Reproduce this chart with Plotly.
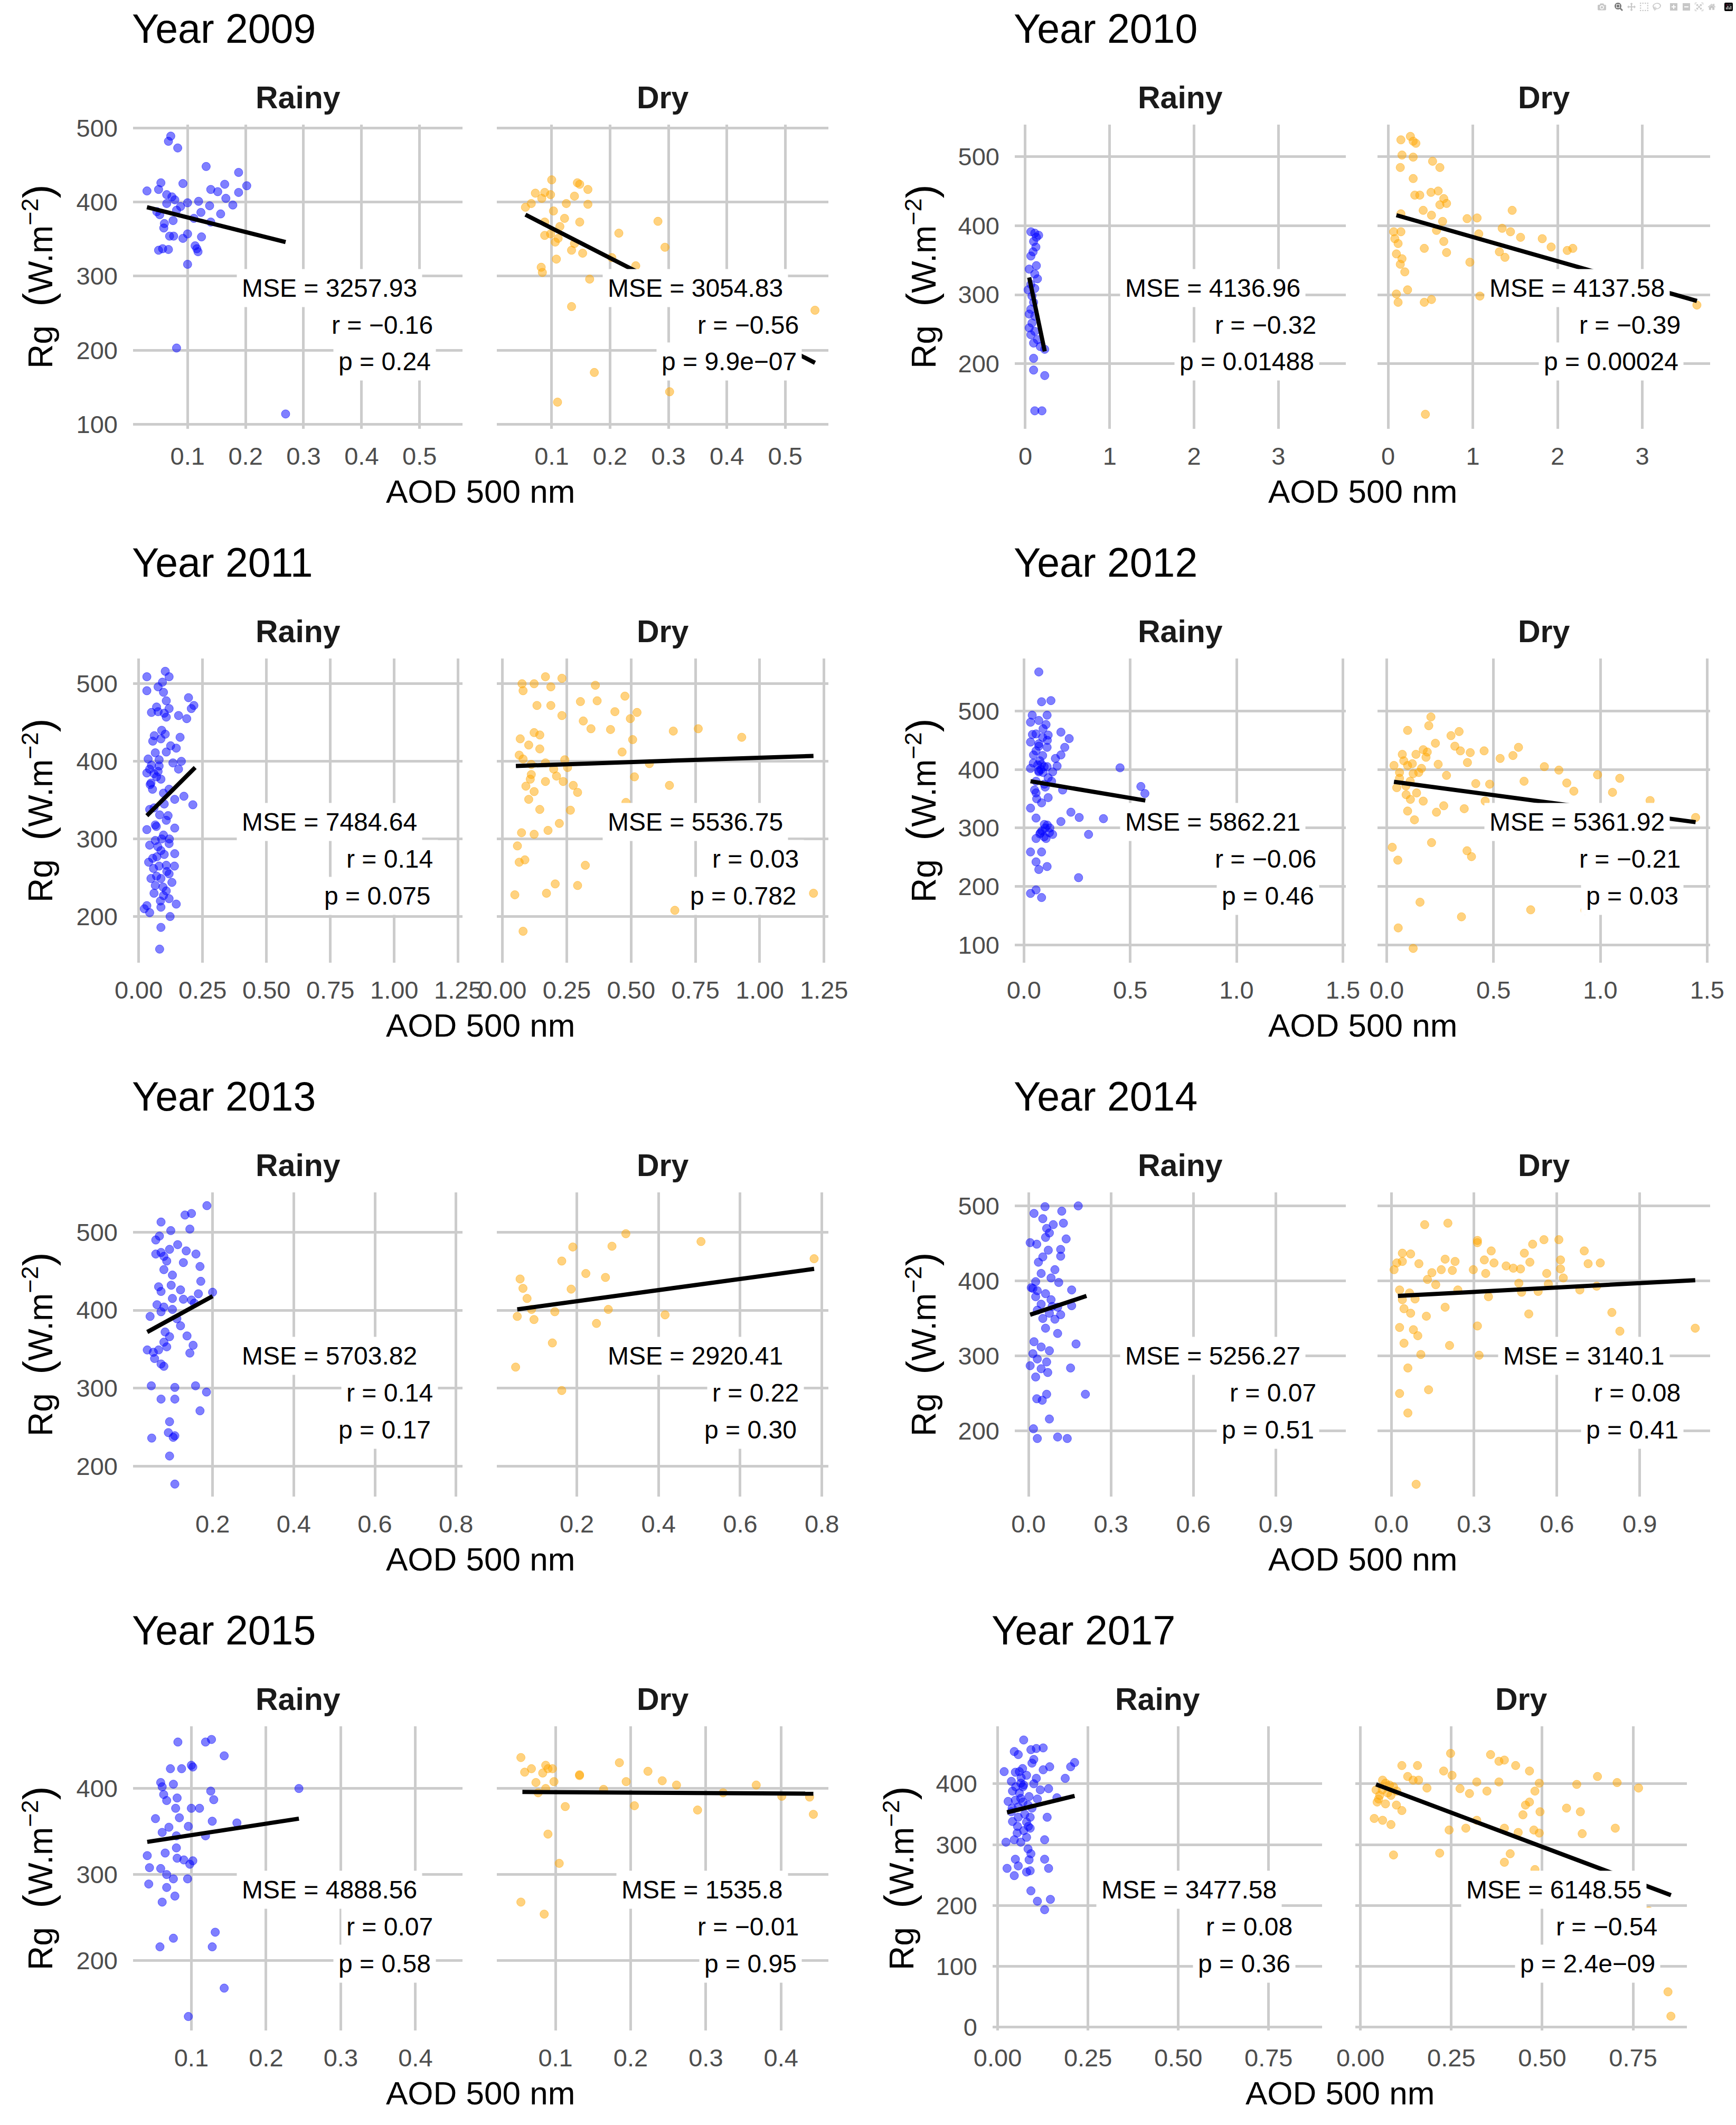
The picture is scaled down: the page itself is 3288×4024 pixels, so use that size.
import plotly.graph_objects as go

# ---------------------------------------------------------------------------
# values: (AOD 500 nm, Rg) per season and year
# ---------------------------------------------------------------------------
YEARS = [2009, 2010, 2011, 2012, 2013, 2014, 2015, 2017]

rainy_2009 = [
    (0.071, 489), (0.067, 482), (0.083, 473), (0.132, 448), (0.188, 440), (0.030, 415), (0.054, 426), (0.050, 417),
    (0.092, 425), (0.064, 410), (0.073, 407), (0.078, 403), (0.202, 422), (0.188, 413), (0.164, 424), (0.140, 417),
    (0.152, 414), (0.178, 396), (0.166, 405), (0.119, 401), (0.100, 399), (0.064, 398), (0.138, 395), (0.123, 386),
    (0.157, 384), (0.081, 389), (0.052, 383), (0.075, 375), (0.060, 371), (0.111, 378), (0.140, 373), (0.059, 365),
    (0.069, 354), (0.076, 354), (0.100, 357), (0.092, 351), (0.124, 353), (0.050, 335), (0.057, 337), (0.067, 336),
    (0.113, 341), (0.116, 337), (0.118, 333), (0.100, 316), (0.081, 203), (0.269, 114), (0.047, 387), (0.088, 394)]
dry_2009 = [
    (0.100, 430), (0.144, 426), (0.148, 424), (0.162, 417), (0.072, 412), (0.088, 413), (0.098, 410), (0.083, 405),
    (0.065, 398), (0.055, 393), (0.125, 398), (0.162, 397), (0.139, 408), (0.103, 388), (0.122, 378), (0.148, 373),
    (0.088, 373), (0.282, 374), (0.114, 367), (0.098, 357), (0.088, 355), (0.215, 358), (0.111, 351), (0.106, 346),
    (0.139, 344), (0.294, 339), (0.134, 335), (0.153, 331), (0.108, 323), (0.082, 312), (0.084, 305), (0.244, 314),
    (0.165, 296), (0.134, 259), (0.551, 254), (0.173, 170), (0.302, 144), (0.110, 130), (0.203, 325)]

rainy_2010 = [
    (0.066, 391), (0.112, 389), (0.158, 386), (0.131, 383), (0.098, 377), (0.125, 369), (0.092, 362), (0.066, 356),
    (0.131, 342), (0.046, 337), (0.112, 330), (0.144, 323), (0.066, 315), (0.112, 309), (0.033, 307), (0.079, 298),
    (0.098, 289), (0.066, 279), (0.046, 272), (0.112, 269), (0.079, 259), (0.046, 252), (0.112, 247), (0.066, 242),
    (0.144, 235), (0.098, 230), (0.177, 225), (0.230, 221), (0.098, 208), (0.098, 191), (0.230, 183), (0.112, 132),
    (0.197, 132)]
dry_2010 = [
    (0.263, 529), (0.151, 524), (0.328, 519), (0.296, 522), (0.164, 502), (0.296, 499), (0.144, 484), (0.525, 493),
    (0.611, 484), (0.296, 468), (0.315, 444), (0.374, 444), (0.506, 448), (0.591, 450), (0.657, 439), (0.690, 432),
    (0.611, 430), (0.414, 422), (1.464, 422), (0.512, 415), (0.932, 410), (1.050, 411), (0.151, 417), (0.643, 406),
    (0.571, 393), (0.066, 391), (0.151, 391), (1.346, 396), (1.444, 391), (1.070, 388), (1.563, 383), (1.819, 381),
    (1.924, 369), (2.114, 364), (2.180, 367), (0.079, 381), (0.118, 374), (0.657, 377), (0.427, 367), (0.690, 361),
    (1.313, 362), (1.379, 354), (0.098, 359), (0.164, 352), (0.144, 344), (0.965, 347), (0.197, 333), (0.098, 301),
    (0.230, 307), (1.083, 298), (0.118, 289), (0.427, 289), (0.512, 293), (3.644, 285), (0.440, 127)]

rainy_2011 = [
    (0.032, 509), (0.104, 516), (0.119, 509), (0.093, 502), (0.076, 496), (0.032, 491), (0.097, 489), (0.195, 482),
    (0.108, 478), (0.216, 472), (0.206, 468), (0.050, 463), (0.076, 464), (0.119, 468), (0.156, 459), (0.188, 455),
    (0.108, 457), (0.061, 433), (0.087, 429), (0.162, 431), (0.104, 435), (0.147, 417), (0.065, 411), (0.108, 412),
    (0.037, 403), (0.167, 400), (0.134, 398), (0.043, 390), (0.076, 387), (0.032, 385), (0.156, 390), (0.087, 377),
    (0.054, 364), (0.119, 364), (0.177, 355), (0.141, 351), (0.212, 344), (0.043, 338), (0.082, 331), (0.108, 324),
    (0.065, 318), (0.032, 312), (0.141, 314), (0.097, 305), (0.065, 298), (0.119, 294), (0.043, 292), (0.087, 285),
    (0.141, 281), (0.071, 277), (0.039, 270), (0.108, 266), (0.058, 262), (0.119, 255), (0.087, 249), (0.130, 244),
    (0.065, 240), (0.108, 233), (0.097, 227), (0.119, 223), (0.147, 216), (0.032, 214), (0.087, 212), (0.043, 205),
    (0.123, 200), (0.087, 186), (0.082, 158), (0.022, 210), (0.048, 249), (0.069, 316), (0.048, 372), (0.097, 359),
    (0.080, 394), (0.050, 395), (0.060, 384), (0.070, 380), (0.045, 370), (0.100, 345), (0.060, 340), (0.090, 300),
    (0.075, 290), (0.100, 280), (0.055, 275), (0.080, 265), (0.110, 258), (0.070, 252), (0.095, 238), (0.060, 230),
    (0.085, 220), (0.140, 265), (0.120, 300), (0.090, 440), (0.070, 470), (0.100, 462), (0.055, 426), (0.125, 420),
    (0.080, 402), (0.115, 330)]
dry_2011 = [
    (0.167, 509), (0.231, 507), (0.076, 500), (0.123, 500), (0.188, 496), (0.080, 491), (0.361, 498), (0.476, 484),
    (0.368, 478), (0.303, 477), (0.134, 472), (0.188, 472), (0.437, 464), (0.523, 463), (0.231, 459), (0.314, 452),
    (0.497, 455), (0.344, 442), (0.420, 441), (0.664, 439), (0.761, 442), (0.930, 431), (0.123, 437), (0.145, 434),
    (0.069, 429), (0.506, 428), (0.102, 421), (0.145, 416), (0.465, 412), (0.065, 408), (0.080, 403), (0.242, 402),
    (0.112, 396), (0.167, 398), (0.199, 390), (0.253, 392), (0.571, 397), (0.112, 383), (0.210, 381), (0.236, 374),
    (0.108, 377), (0.167, 374), (0.513, 380), (0.649, 369), (0.275, 369), (0.292, 360), (0.091, 368), (0.123, 361),
    (0.102, 351), (0.480, 347), (0.145, 338), (0.264, 337), (0.221, 320), (0.074, 308), (0.123, 306), (0.177, 311),
    (0.058, 291), (0.065, 270), (0.087, 273), (0.322, 266), (0.205, 242), (0.292, 240), (0.048, 228), (0.171, 230),
    (1.209, 230), (0.670, 208), (0.080, 181)]

rainy_2012 = [
    (0.070, 567), (0.083, 516), (0.127, 518), (0.039, 493), (0.109, 493), (0.031, 481), (0.070, 484), (0.104, 477),
    (0.174, 464), (0.213, 453), (0.057, 461), (0.088, 455), (0.114, 459), (0.031, 447), (0.070, 444), (0.109, 438),
    (0.192, 438), (0.057, 432), (0.174, 425), (0.088, 424), (0.148, 419), (0.044, 411), (0.083, 409), (0.109, 405),
    (0.031, 402), (0.070, 396), (0.135, 396), (0.452, 403), (0.156, 406), (0.057, 380), (0.096, 375), (0.182, 365),
    (0.550, 371), (0.569, 359), (0.057, 360), (0.114, 352), (0.031, 334), (0.083, 343), (0.221, 327), (0.260, 318),
    (0.374, 316), (0.174, 311), (0.057, 317), (0.096, 306), (0.122, 300), (0.078, 292), (0.304, 289), (0.135, 289),
    (0.104, 282), (0.057, 282), (0.031, 259), (0.083, 259), (0.057, 242), (0.109, 234), (0.070, 229), (0.257, 215),
    (0.031, 188), (0.057, 194), (0.083, 181), (0.070, 398), (0.114, 386), (0.080, 400), (0.095, 405), (0.075, 415),
    (0.090, 395), (0.065, 408), (0.100, 300), (0.085, 295), (0.110, 305), (0.095, 285), (0.075, 290), (0.120, 292),
    (0.060, 350), (0.050, 365), (0.100, 370), (0.130, 380), (0.045, 425), (0.090, 470), (0.110, 450), (0.070, 440),
    (0.040, 460)]
dry_2012 = [
    (0.207, 490), (0.197, 475), (0.098, 467), (0.339, 465), (0.301, 458), (0.228, 445), (0.319, 440), (0.345, 432),
    (0.617, 438), (0.591, 424), (0.391, 429), (0.456, 432), (0.531, 419), (0.171, 434), (0.137, 426), (0.073, 426),
    (0.184, 421), (0.241, 409), (0.378, 412), (0.034, 407), (0.098, 407), (0.163, 402), (0.738, 405), (0.806, 399),
    (0.987, 391), (1.091, 385), (0.060, 395), (0.124, 393), (0.280, 390), (0.643, 380), (0.417, 376), (0.482, 375),
    (0.843, 377), (0.876, 363), (0.047, 369), (0.091, 357), (0.111, 349), (0.171, 346), (0.461, 346), (1.057, 361),
    (1.233, 347), (1.446, 318), (0.098, 329), (0.233, 327), (0.267, 338), (0.130, 314), (0.363, 333), (0.026, 267),
    (0.052, 245), (0.210, 275), (0.376, 261), (0.397, 251), (0.156, 173), (0.350, 148), (0.674, 160), (0.928, 159),
    (0.054, 129), (0.124, 94), (0.080, 415), (0.120, 410), (0.150, 395), (0.060, 385), (0.190, 430), (0.110, 380),
    (0.140, 360), (0.090, 372)]

rainy_2013 = [
    (0.186, 534), (0.132, 522), (0.148, 524), (0.144, 504), (0.073, 513), (0.097, 502), (0.069, 495), (0.060, 490),
    (0.114, 484), (0.094, 478), (0.073, 474), (0.060, 472), (0.135, 476), (0.159, 472), (0.080, 469), (0.087, 463),
    (0.128, 461), (0.169, 456), (0.080, 452), (0.101, 445), (0.171, 437), (0.098, 432), (0.067, 430), (0.121, 426),
    (0.165, 421), (0.200, 423), (0.073, 424), (0.101, 415), (0.128, 414), (0.148, 413), (0.155, 409), (0.063, 407),
    (0.080, 404), (0.101, 401), (0.046, 392), (0.073, 398), (0.112, 389), (0.121, 380), (0.137, 367), (0.083, 372),
    (0.094, 366), (0.080, 359), (0.152, 355), (0.039, 349), (0.054, 346), (0.067, 349), (0.087, 353), (0.144, 345),
    (0.057, 338), (0.073, 331), (0.080, 328), (0.049, 303), (0.107, 301), (0.158, 303), (0.185, 295), (0.073, 286),
    (0.107, 286), (0.169, 271), (0.094, 257), (0.091, 243), (0.103, 237), (0.107, 239), (0.050, 236), (0.094, 213),
    (0.107, 177)]
dry_2013 = [
    (0.320, 498), (0.504, 488), (0.190, 481), (0.286, 482), (0.781, 466), (0.163, 463), (0.222, 447), (0.270, 442),
    (0.061, 440), (0.068, 428), (0.186, 427), (0.078, 415), (0.089, 401), (0.146, 398), (0.277, 401), (0.054, 392),
    (0.095, 388), (0.416, 394), (0.248, 383), (0.140, 358), (0.050, 327), (0.163, 297)]

rainy_2014 = [
    (0.060, 499), (0.181, 500), (0.020, 490), (0.121, 493), (0.052, 483), (0.127, 477), (0.090, 475), (0.066, 470),
    (0.076, 464), (0.062, 458), (0.137, 456), (0.006, 451), (0.030, 449), (0.072, 441), (0.117, 442), (0.052, 432),
    (0.036, 425), (0.117, 433), (0.096, 415), (0.046, 410), (0.082, 404), (0.026, 399), (0.110, 398), (0.010, 391),
    (0.032, 387), (0.062, 383), (0.157, 388), (0.026, 379), (0.082, 375), (0.046, 369), (0.106, 365), (0.157, 367),
    (0.032, 361), (0.076, 357), (0.117, 355), (0.052, 350), (0.096, 349), (0.062, 337), (0.106, 330), (0.020, 319),
    (0.046, 312), (0.173, 316), (0.076, 307), (0.016, 303), (0.032, 296), (0.066, 292), (0.006, 287), (0.153, 284),
    (0.046, 283), (0.070, 278), (0.026, 272), (0.207, 249), (0.066, 249), (0.050, 241), (0.030, 243), (0.076, 216),
    (0.018, 203), (0.032, 190), (0.106, 192), (0.141, 190), (0.016, 390), (0.086, 366)]
dry_2014 = [
    (0.121, 475), (0.205, 477), (0.312, 454), (0.312, 451), (0.553, 455), (0.607, 455), (0.512, 449), (0.362, 440),
    (0.699, 440), (0.482, 437), (0.040, 437), (0.070, 436), (0.020, 424), (0.040, 426), (0.100, 423), (0.195, 429),
    (0.231, 426), (0.337, 428), (0.372, 424), (0.416, 420), (0.442, 417), (0.468, 416), (0.502, 425), (0.613, 428),
    (0.713, 423), (0.757, 424), (0.010, 415), (0.147, 411), (0.181, 415), (0.221, 414), (0.297, 415), (0.342, 410),
    (0.563, 410), (0.613, 416), (0.623, 404), (0.131, 402), (0.161, 395), (0.462, 397), (0.569, 396), (0.744, 393),
    (0.030, 388), (0.066, 384), (0.040, 375), (0.086, 376), (0.241, 388), (0.352, 379), (0.472, 385), (0.532, 386),
    (0.683, 388), (0.195, 365), (0.046, 363), (0.070, 357), (0.127, 353), (0.498, 356), (0.799, 358), (0.030, 338),
    (0.080, 335), (0.096, 327), (0.312, 340), (0.828, 333), (1.101, 337), (0.046, 317), (0.211, 314), (0.107, 302),
    (0.318, 301), (0.060, 284), (0.135, 255), (0.030, 250), (0.060, 224), (0.090, 129)]

rainy_2015 = [
    (0.082, 454), (0.119, 454), (0.127, 457), (0.144, 438), (0.100, 427), (0.102, 425), (0.072, 423), (0.087, 423),
    (0.059, 407), (0.061, 402), (0.076, 405), (0.244, 400), (0.063, 393), (0.081, 389), (0.126, 397), (0.130, 387),
    (0.067, 386), (0.079, 377), (0.100, 377), (0.111, 377), (0.052, 365), (0.084, 366), (0.128, 362), (0.161, 360),
    (0.070, 355), (0.096, 356), (0.061, 349), (0.080, 345), (0.119, 345), (0.080, 331), (0.065, 325), (0.041, 322),
    (0.081, 319), (0.090, 317), (0.102, 316), (0.098, 312), (0.044, 308), (0.059, 307), (0.067, 300), (0.076, 295),
    (0.095, 295), (0.043, 289), (0.067, 285), (0.078, 275), (0.061, 268), (0.132, 233), (0.076, 226), (0.058, 216),
    (0.128, 216), (0.144, 168), (0.096, 135)]
dry_2015 = [
    (0.054, 436), (0.185, 430), (0.068, 423), (0.087, 427), (0.090, 423), (0.096, 423), (0.059, 419), (0.083, 418),
    (0.223, 420), (0.132, 415), (0.132, 416), (0.098, 408), (0.074, 407), (0.242, 409), (0.194, 408), (0.261, 404),
    (0.367, 404), (0.087, 400), (0.164, 399), (0.077, 395), (0.323, 395), (0.401, 391), (0.438, 390), (0.205, 380),
    (0.113, 379), (0.289, 375), (0.443, 370), (0.090, 347), (0.105, 313), (0.054, 268), (0.085, 254)]

rainy_2017 = [
    (0.072, 472), (0.046, 453), (0.057, 448), (0.092, 456), (0.107, 458), (0.126, 459), (0.018, 420), (0.049, 419),
    (0.095, 434), (0.144, 428), (0.126, 423), (0.213, 435), (0.202, 428), (0.187, 409), (0.080, 414), (0.107, 409),
    (0.038, 404), (0.064, 401), (0.072, 398), (0.118, 390), (0.141, 392), (0.041, 388), (0.087, 379), (0.164, 377),
    (0.049, 373), (0.064, 376), (0.029, 371), (0.057, 362), (0.084, 365), (0.038, 354), (0.137, 345), (0.057, 345),
    (0.080, 337), (0.041, 338), (0.090, 327), (0.072, 323), (0.054, 319), (0.130, 308), (0.023, 304), (0.046, 308),
    (0.064, 304), (0.084, 293), (0.092, 285), (0.130, 276), (0.049, 276), (0.087, 275), (0.026, 261), (0.057, 265),
    (0.141, 261), (0.080, 255), (0.090, 257), (0.046, 249), (0.092, 224), (0.110, 207), (0.146, 210), (0.130, 193),
    (0.069, 425), (0.060, 385), (0.070, 370), (0.050, 395), (0.075, 350), (0.065, 410), (0.085, 330), (0.100, 400),
    (0.095, 360), (0.055, 330), (0.080, 312), (0.040, 360), (0.110, 375), (0.070, 395), (0.090, 345), (0.060, 420),
    (0.100, 440)]
dry_2017 = [
    (0.248, 450), (0.358, 448), (0.381, 437), (0.396, 439), (0.427, 430), (0.465, 421), (0.114, 430), (0.157, 430),
    (0.229, 421), (0.252, 414), (0.130, 412), (0.145, 406), (0.160, 406), (0.652, 412), (0.320, 403), (0.381, 403),
    (0.492, 401), (0.595, 399), (0.706, 402), (0.765, 393), (0.061, 406), (0.069, 401), (0.091, 395), (0.183, 393),
    (0.274, 392), (0.300, 384), (0.348, 388), (0.480, 388), (0.043, 390), (0.053, 381), (0.084, 381), (0.046, 370),
    (0.069, 367), (0.099, 365), (0.114, 356), (0.465, 370), (0.454, 365), (0.567, 360), (0.494, 354), (0.605, 354),
    (0.447, 349), (0.038, 343), (0.061, 340), (0.084, 333), (0.320, 340), (0.290, 327), (0.244, 324), (0.396, 327),
    (0.477, 324), (0.492, 319), (0.701, 327), (0.610, 318), (0.434, 320), (0.091, 283), (0.218, 286), (0.412, 285),
    (0.396, 271), (0.480, 259), (0.793, 191), (0.846, 58), (0.854, 18), (0.060, 390), (0.075, 385), (0.050, 375),
    (0.080, 398), (0.100, 388)]

# linear fits (start / end point of each regression segment, as drawn)
fit_rainy = {
    2009: [(0.030, 393), (0.269, 346)], 2010: [(0.046, 325), (0.230, 218)],
    2011: [(0.032, 330), (0.221, 392)], 2012: [(0.031, 380), (0.571, 347)],
    2013: [(0.039, 372), (0.200, 418)], 2014: [(0.006, 355), (0.211, 380)],
    2015: [(0.041, 338), (0.244, 365)], 2017: [(0.026, 353), (0.213, 380)]}
fit_dry = {
    2009: [(0.055, 383), (0.551, 183)], 2010: [(0.098, 415), (3.644, 291)],
    2011: [(0.052, 394), (1.209, 407)], 2012: [(0.034, 379), (1.446, 310)],
    2013: [(0.054, 401), (0.781, 453)], 2014: [(0.024, 380), (1.101, 401)],
    2015: [(0.056, 396), (0.443, 394)], 2017: [(0.043, 399), (0.854, 217)]}

mse_rainy = ["3257.93", "4136.96", "7484.64", "5862.21", "5703.82", "5256.27", "4888.56", "3477.58"]
r_rainy = ["\u22120.16", "\u22120.32", "0.14", "\u22120.06", "0.14", "0.07", "0.07", "0.08"]
p_rainy = ["0.24", "0.01488", "0.075", "0.46", "0.17", "0.51", "0.58", "0.36"]
mse_dry = ["3054.83", "4137.58", "5536.75", "5361.92", "2920.41", "3140.1", "1535.8", "6148.55"]
r_dry = ["\u22120.56", "\u22120.39", "0.03", "\u22120.21", "0.22", "0.08", "\u22120.01", "\u22120.54"]
p_dry = ["9.9e\u221207", "0.00024", "0.782", "0.03", "0.30", "0.41", "0.95", "2.4e\u221209"]

x_ticks = {
    2009: [0.1, 0.2, 0.3, 0.4, 0.5], 2010: [0, 1, 2, 3], 2011: [0, 0.25, 0.5, 0.75, 1.0, 1.25],
    2012: [0, 0.5, 1.0, 1.5], 2013: [0.2, 0.4, 0.6, 0.8], 2014: [0, 0.3, 0.6, 0.9],
    2015: [0.1, 0.2, 0.3, 0.4], 2017: [0, 0.25, 0.5, 0.75]}
x_fmt = {2009: ".1f", 2010: ".0f", 2011: ".2f", 2012: ".1f", 2013: ".1f", 2014: ".1f", 2015: ".1f", 2017: ".2f"}
y_ticks = {
    2009: [100, 200, 300, 400, 500], 2010: [200, 300, 400, 500], 2011: [200, 300, 400, 500],
    2012: [100, 200, 300, 400, 500], 2013: [200, 300, 400, 500], 2014: [200, 300, 400, 500],
    2015: [200, 300, 400], 2017: [0, 100, 200, 300, 400]}

# ---------------------------------------------------------------------------
# layout (pixel geometry of the 3288 x 4024 page)
# ---------------------------------------------------------------------------
W, H = 3288, 4024
FONT = "Liberation Sans, Arial, sans-serif"
GRID = "#CCCCCC"
COLORS = ("rgba(0,0,255,0.5)", "rgba(255,165,0,0.5)")

x_range = {2009: [0.006, 0.574], 2010: [-0.125, 3.80], 2011: [-0.022, 1.267], 2012: [-0.043, 1.514],
           2013: [0.004, 0.816], 2014: [-0.05, 1.155], 2015: [0.022, 0.463], 2017: [-0.014, 0.898]}
y_range = {2009: [94, 504.5], 2010: [106, 546], 2011: [140.5, 532.5], 2012: [69.5, 590],
           2013: [161, 551], 2014: [112.6, 518], 2015: [118.8, 472.3], 2017: [-5.5, 494.5]}

# panel spans in px: (rainy, dry, y-title centre)
COLS = {"L": ((252, 876), (941, 1569), 72),
        "R": ((1922, 2549), (2609, 3239), 1745),
        "R17": ((1880, 2504), (2567, 3195), 1703)}
PLACE = {2009: (0, "L"), 2010: (0, "R"), 2011: (1, "L"), 2012: (1, "R"),
         2013: (2, "L"), 2014: (2, "R"), 2015: (3, "L"), 2017: (3, "R17")}
ROW_STEP = 1011
PAD = 9
Y_TITLE = ("Rg  <span style='font-size:78px'>(</span>W.m<sup>\u22122</sup>"
           "<span style='font-size:78px'>)</span>")


def px(v):
    return v / W


def py(v):
    return 1 - v / H


fig = go.Figure()
layout = {}
ann = []
tick_font = dict(family=FONT, size=47, color="#4D4D4D")

for i, year in enumerate(YEARS):
    row, col = PLACE[year]
    spans = COLS[col][:2]
    ytitle_x = COLS[col][2]
    off = row * ROW_STEP
    top, bot = 236 + off, 812 + off
    series = [
        (globals()[f"rainy_{year}"], fit_rainy[year], "Rainy", mse_rainy[i], r_rainy[i], p_rainy[i]),
        (globals()[f"dry_{year}"], fit_dry[year], "Dry", mse_dry[i], r_dry[i], p_dry[i]),
    ]
    for j, (pts, fit, label, mse, r, p) in enumerate(series):
        k = 2 * i + j + 1
        sfx = "" if k == 1 else str(k)
        x0, x1 = spans[j]
        layout["xaxis" + sfx] = dict(
            domain=[px(x0), px(x1)], anchor="y" + sfx, range=x_range[year], automargin=False,
            tickvals=x_ticks[year], tickformat=x_fmt[year], showgrid=True, gridcolor=GRID, gridwidth=5,
            zeroline=False, showline=False, ticks="", ticklabelstandoff=20, tickfont=tick_font)
        layout["yaxis" + sfx] = dict(
            domain=[py(bot), py(top)], anchor="x" + sfx, range=y_range[year], automargin=False,
            tickvals=y_ticks[year], showticklabels=(j == 0), showgrid=True, gridcolor=GRID, gridwidth=5,
            zeroline=False, showline=False, ticks="", ticklabelstandoff=28, tickfont=tick_font)

        fig.add_trace(go.Scatter(
            x=[a for a, _ in pts], y=[b for _, b in pts], mode="markers", showlegend=False,
            xaxis="x" + sfx, yaxis="y" + sfx,
            marker=dict(size=16, color=COLORS[j], line=dict(width=1, color=COLORS[j]))))
        fig.add_trace(go.Scatter(
            x=[a for a, _ in fit], y=[b for _, b in fit], mode="lines", showlegend=False,
            xaxis="x" + sfx, yaxis="y" + sfx, line=dict(color="black", width=8)))

        # strip label
        ann.append(dict(x=px((x0 + x1) / 2), y=py(185 + off), text=f"<b>{label}</b>",
                        font=dict(family=FONT, size=59, color="#1A1A1A")))
        # statistics, right aligned inside the panel, white boxes over the grid
        for txt, dy, dx in ((f"MSE = {mse}", 267, 86), (f"r = {r}", 197, 56), (f"p = {p}", 127, 60)):
            ann.append(dict(x=px(x1 - dx + PAD + 1), y=py(bot - dy), xanchor="right", text=txt,
                            bgcolor="white", borderpad=PAD,
                            font=dict(family=FONT, size=48, color="black")))

    # year title, x title, y title
    ann.append(dict(x=px(spans[0][0] - 4), y=py(54 + off), xanchor="left", text=f"Year {year}",
                    font=dict(family=FONT, size=77, color="black")))
    ann.append(dict(x=px((spans[0][0] + spans[1][1]) / 2), y=py(930 + off), text="AOD 500 nm",
                    font=dict(family=FONT, size=62, color="black")))
    ann.append(dict(x=px(ytitle_x), y=py((top + bot) / 2), textangle=-90,
                    text=Y_TITLE, font=dict(family=FONT, size=64, color="black")))

for a in ann:
    a.update(xref="paper", yref="paper", showarrow=False, yanchor="middle")
    a.setdefault("xanchor", "center")

fig.update_layout(
    width=W, height=H, margin=dict(l=0, r=0, t=0, b=0, autoexpand=False),
    paper_bgcolor="white", plot_bgcolor="white", showlegend=False,
    annotations=ann, **layout)

fig.write_html("out.html", post_script="document.body.style.margin='0';")
